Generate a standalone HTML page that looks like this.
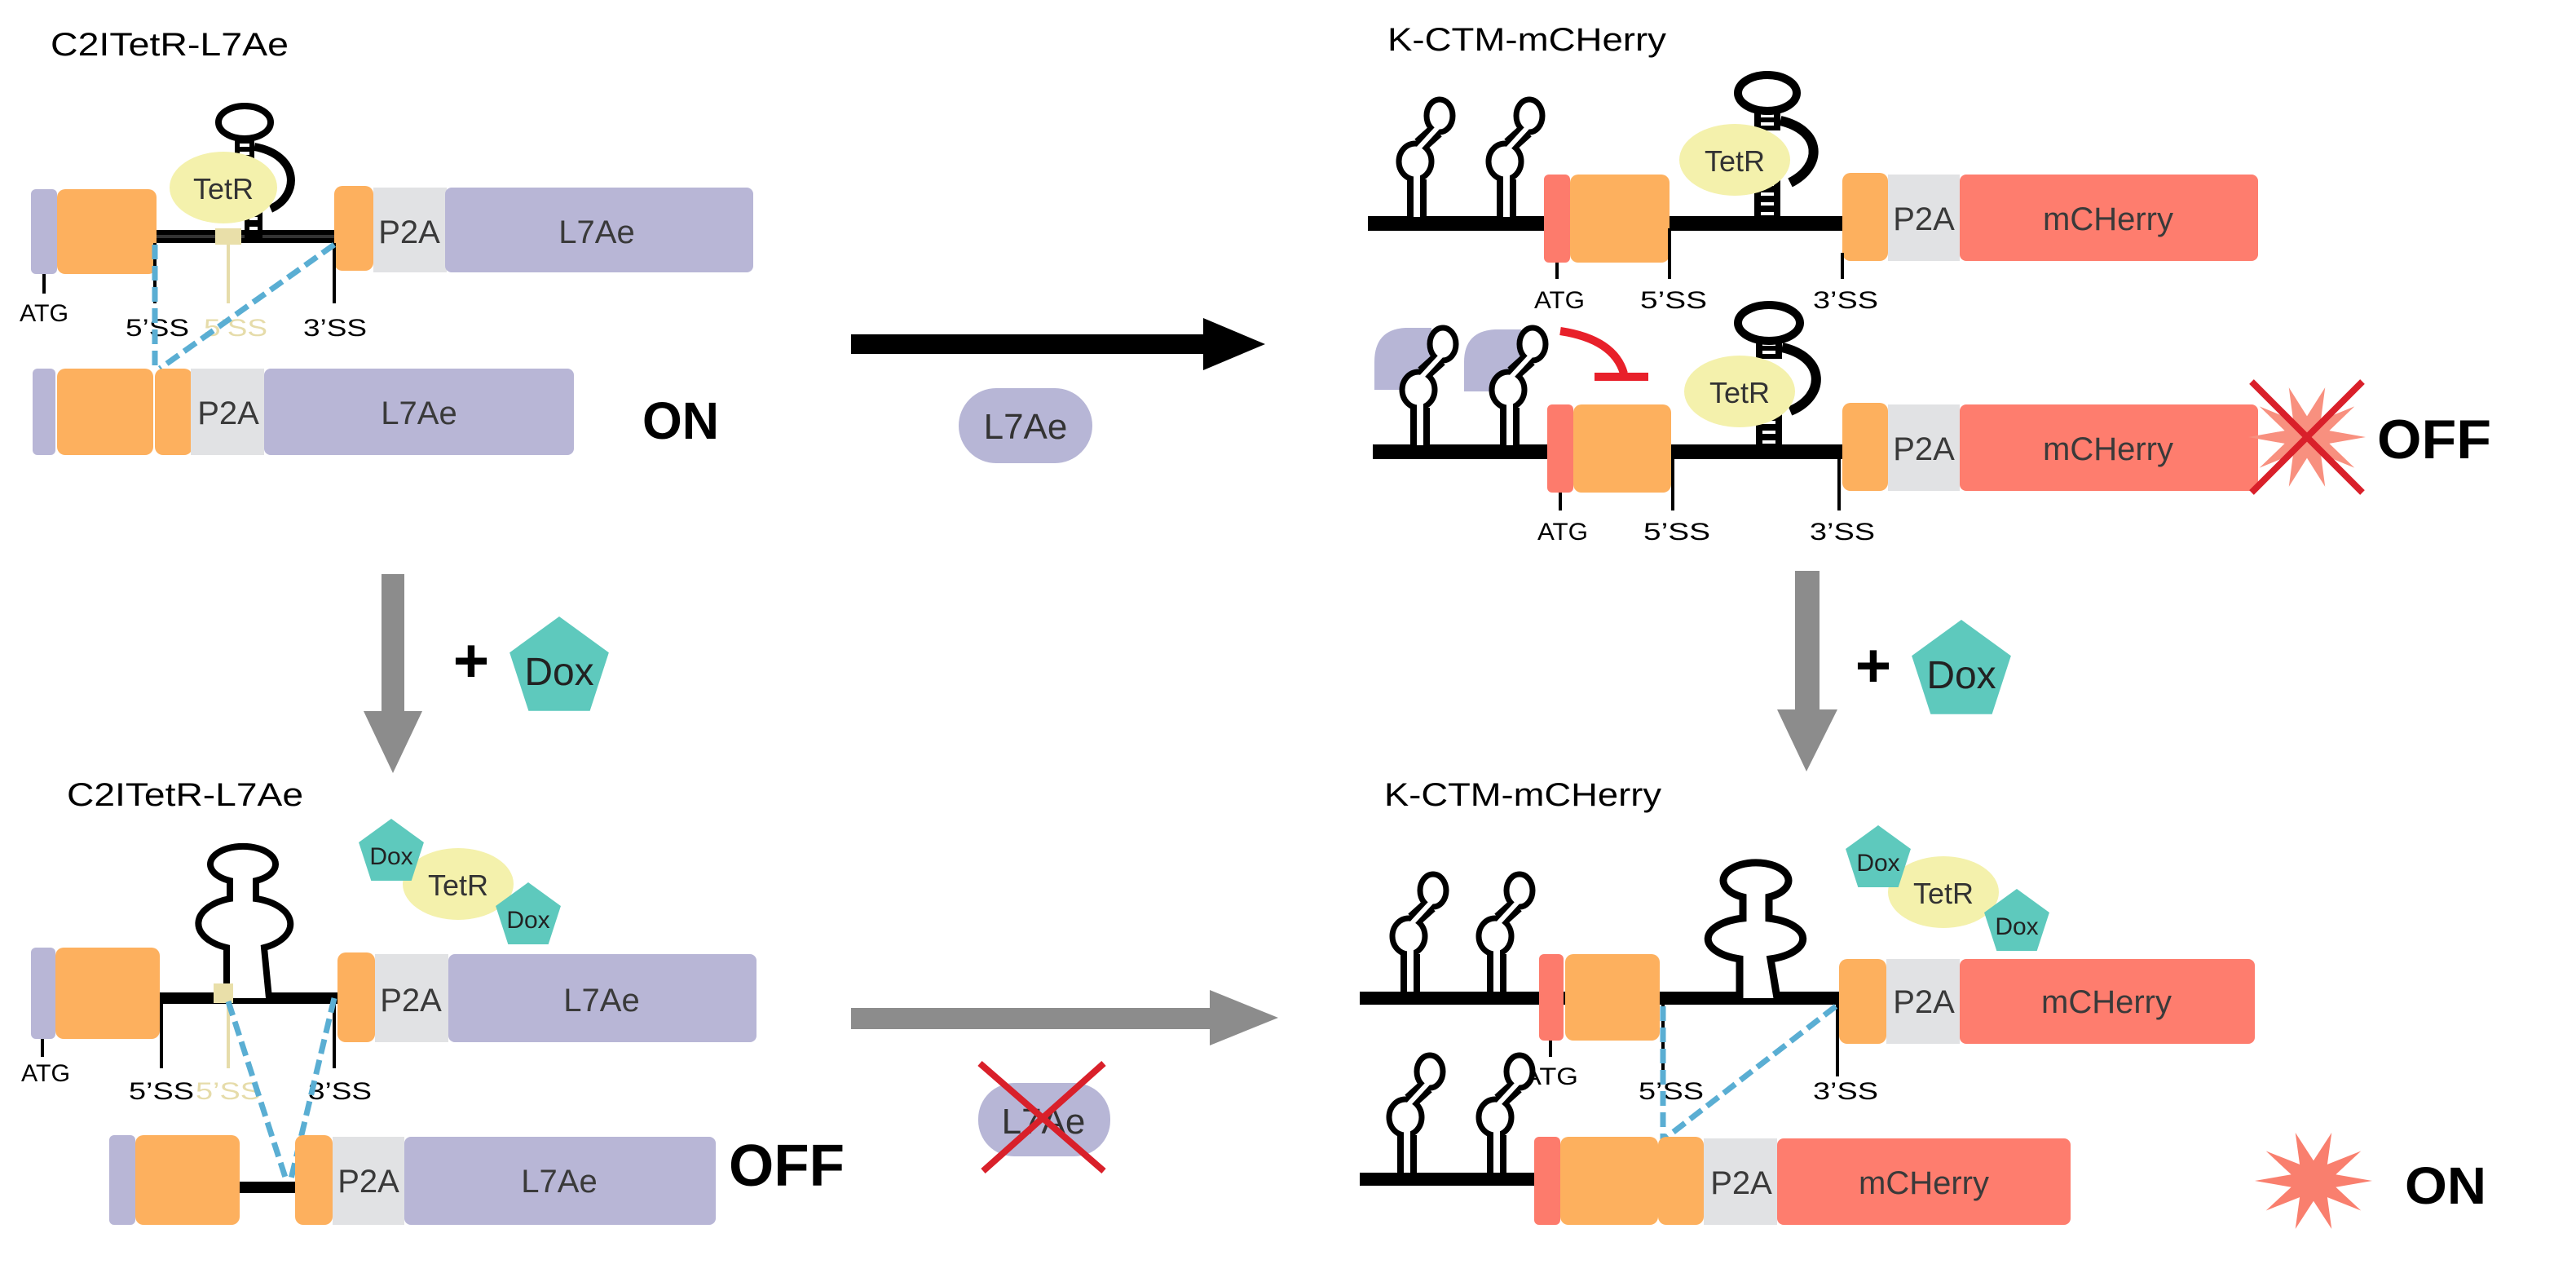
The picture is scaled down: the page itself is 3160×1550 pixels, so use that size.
<!DOCTYPE html>
<html><head><meta charset="utf-8"><style>
html,body{margin:0;padding:0;background:#fff;}
svg{display:block;}
text{font-family:"Liberation Sans",Arial,sans-serif;}
</style></head><body>
<svg width="3160" height="1550" viewBox="0 0 1580 775" xmlns="http://www.w3.org/2000/svg">
<defs>
<g id="hp">
 <path d="M0,0 V-27" stroke="#000" stroke-width="12" fill="none"/>
 <path d="M2,-48 L12,-57" stroke="#000" stroke-width="10" fill="none"/>
 <ellipse cx="-1" cy="-38" rx="10" ry="11" fill="#fff" stroke="#000" stroke-width="3.5"/>
 <ellipse cx="14" cy="-66" rx="8" ry="10" fill="#fff" stroke="#000" stroke-width="3.5"/>
 <path d="M0,-4 V-30" stroke="#fff" stroke-width="4" fill="none"/>
 <path d="M1,-46 L13,-59" stroke="#fff" stroke-width="3" fill="none"/>
</g>
<polygon id="pent" points="0,-1 0.951,-0.309 0.588,0.809 -0.588,0.809 -0.951,-0.309"/>
<polygon id="star" points="1,0 .38,.124 .809,.588 .235,.324 .309,.951 0,.4 -.309,.951 -.235,.324 -.809,.588 -.38,.124 -1,0 -.38,-.124 -.809,-.588 -.235,-.324 -.309,-.951 0,-.4 .309,-.951 .235,-.324 .809,-.588 .38,-.124"/>
<g id="lad">
 <rect x="0" y="0" width="16" height="1" fill="#000"/>
</g>
</defs>

<!-- ================= TOP LEFT ================= -->
<text x="31" y="34" font-size="20" textLength="146" lengthAdjust="spacingAndGlyphs">C2ITetR-L7Ae</text>
<line x1="96" y1="145" x2="208" y2="145" stroke="#000" stroke-width="8"/>
<line x1="96" y1="145" x2="208" y2="145" stroke="#333" stroke-width="2"/>
<path d="M156,90 C184,95 184,120 166,128" stroke="#000" stroke-width="5" fill="none"/>
<rect x="144" y="84" width="12" height="14" fill="#000"/>
<rect x="147" y="88" width="6" height="2" fill="#fff"/><rect x="147" y="93" width="6" height="2" fill="#fff"/>
<ellipse cx="150" cy="75" rx="16" ry="10" fill="#fff" stroke="#000" stroke-width="4"/>
<rect x="150" y="128" width="11" height="20" fill="#000"/>
<rect x="153" y="133" width="5" height="2" fill="#fff"/><rect x="153" y="139" width="5" height="2" fill="#fff"/>
<ellipse cx="137" cy="115" rx="33" ry="22" fill="#f4f1ac"/>
<text x="137" y="122" font-size="18" text-anchor="middle" fill="#333">TetR</text>
<rect x="132" y="140" width="16" height="10" fill="#e9dfa9"/>
<line x1="140" y1="150" x2="140" y2="186" stroke="#e6dcaa" stroke-width="2"/>
<rect x="19" y="116" width="16" height="52" rx="3" fill="#b8b6d6"/>
<rect x="35" y="116" width="61" height="52" rx="5" fill="#fdb05e"/>
<rect x="205" y="114" width="24" height="52" rx="5" fill="#fdb05e"/>
<rect x="229" y="115" width="45" height="52" fill="#e1e2e4"/>
<rect x="273" y="115" width="189" height="52" rx="4" fill="#b8b6d6"/>
<text x="251" y="149" font-size="20" text-anchor="middle" fill="#3a3a3a">P2A</text>
<text x="366" y="149" font-size="20" text-anchor="middle" fill="#3a3a3a">L7Ae</text>
<line x1="27" y1="168" x2="27" y2="180" stroke="#000" stroke-width="2"/>
<line x1="95" y1="149" x2="95" y2="186" stroke="#000" stroke-width="2"/>
<line x1="205" y1="149" x2="205" y2="186" stroke="#000" stroke-width="2"/>
<text x="12" y="197" font-size="15" textLength="30" lengthAdjust="spacingAndGlyphs">ATG</text>
<text x="77" y="206" font-size="15" textLength="39" lengthAdjust="spacingAndGlyphs">5’SS</text>
<text x="125" y="206" font-size="15" textLength="39" lengthAdjust="spacingAndGlyphs" fill="#e6dcaa">5’SS</text>
<text x="186" y="206" font-size="15" textLength="39" lengthAdjust="spacingAndGlyphs">3’SS</text>
<path d="M95,150 L95,226 M205,150 L98,226" stroke="#5aaed3" stroke-width="3.5" stroke-dasharray="9,4" fill="none"/>
<rect x="20" y="226" width="14" height="53" rx="3" fill="#b8b6d6"/>
<rect x="35" y="226" width="59" height="53" rx="5" fill="#fdb05e"/>
<rect x="95" y="226" width="23" height="53" rx="5" fill="#fdb05e"/>
<rect x="117" y="226" width="45" height="53" fill="#e1e2e4"/>
<rect x="162" y="226" width="190" height="53" rx="4" fill="#b8b6d6"/>
<text x="140" y="260" font-size="20" text-anchor="middle" fill="#3a3a3a">P2A</text>
<text x="257" y="260" font-size="20" text-anchor="middle" fill="#3a3a3a">L7Ae</text>
<text x="394" y="269" font-size="32" font-weight="bold" textLength="47" lengthAdjust="spacingAndGlyphs">ON</text>

<!-- middle black arrow -->
<rect x="522" y="205" width="218" height="12" fill="#000"/>
<polygon points="738,195 776,211 738,227" fill="#000"/>
<rect x="588" y="238" width="82" height="46" rx="23" fill="#b7b6d6"/>
<text x="629" y="269" font-size="22" text-anchor="middle" fill="#333">L7Ae</text>

<!-- ================= TOP RIGHT ================= -->
<text x="851" y="31" font-size="20" textLength="171" lengthAdjust="spacingAndGlyphs">K-CTM-mCHerry</text>
<line x1="839" y1="137" x2="1130" y2="137" stroke="#000" stroke-width="9"/>
<use href="#hp" x="869" y="137"/>
<use href="#hp" x="924" y="137"/>
<!-- big hairpin row1 -->
<path d="M1092,74 C1118,80 1118,102 1098,112" stroke="#000" stroke-width="6" fill="none"/>
<rect x="1076" y="66" width="16" height="14" fill="#000"/>
<rect x="1080" y="70" width="8" height="2" fill="#fff"/><rect x="1080" y="75" width="8" height="2" fill="#fff"/>
<ellipse cx="1084" cy="57" rx="18" ry="11" fill="#fff" stroke="#000" stroke-width="5"/>
<rect x="1076" y="106" width="16" height="35" fill="#000"/>
<rect x="1080" y="112" width="8" height="2" fill="#fff"/><rect x="1080" y="118" width="8" height="2" fill="#fff"/><rect x="1080" y="124" width="8" height="2" fill="#fff"/><rect x="1080" y="130" width="8" height="2" fill="#fff"/>
<ellipse cx="1064" cy="98" rx="34" ry="22" fill="#f4f1ac"/>
<text x="1064" y="105" font-size="18" text-anchor="middle" fill="#333">TetR</text>
<rect x="947" y="107" width="16" height="54" rx="3" fill="#fd7b6c"/>
<rect x="963" y="107" width="61" height="54" rx="5" fill="#fdb05e"/>
<rect x="1130" y="106" width="28" height="54" rx="5" fill="#fdb05e"/>
<rect x="1158" y="107" width="44" height="53" fill="#e1e2e4"/>
<rect x="1202" y="107" width="183" height="53" rx="4" fill="#fe7d6e"/>
<text x="1180" y="141" font-size="20" text-anchor="middle" fill="#3a3a3a">P2A</text>
<text x="1293" y="141" font-size="20" text-anchor="middle" fill="#3a3a3a">mCHerry</text>
<line x1="955" y1="161" x2="955" y2="171" stroke="#000" stroke-width="2"/>
<line x1="1024" y1="140" x2="1024" y2="171" stroke="#000" stroke-width="2"/>
<line x1="1130" y1="155" x2="1130" y2="171" stroke="#000" stroke-width="2"/>
<text x="941" y="189" font-size="15" textLength="31" lengthAdjust="spacingAndGlyphs">ATG</text>
<text x="1006" y="189" font-size="15" textLength="41" lengthAdjust="spacingAndGlyphs">5’SS</text>
<text x="1112" y="189" font-size="15" textLength="40" lengthAdjust="spacingAndGlyphs">3’SS</text>

<!-- row2 -->
<path d="M878,201 L862,201 Q843,202 843,222 L843,239 L878,239 Z" fill="#b7b6d6"/>
<path d="M933,202 L917,202 Q898,203 898,222 L898,240 L933,240 Z" fill="#b7b6d6"/>
<line x1="842" y1="277" x2="1130" y2="277" stroke="#000" stroke-width="9"/>
<use href="#hp" x="871" y="277"/>
<use href="#hp" x="926" y="277"/>
<path d="M957,203 Q990,208 996,229" stroke="#e8202a" stroke-width="5" fill="none"/>
<line x1="978" y1="231" x2="1011" y2="231" stroke="#e8202a" stroke-width="5"/>
<path d="M1093,213 C1120,219 1120,243 1098,252" stroke="#000" stroke-width="6" fill="none"/>
<rect x="1077" y="206" width="16" height="14" fill="#000"/>
<rect x="1081" y="210" width="8" height="2" fill="#fff"/><rect x="1081" y="215" width="8" height="2" fill="#fff"/>
<ellipse cx="1085" cy="198" rx="19" ry="11" fill="#fff" stroke="#000" stroke-width="5"/>
<rect x="1077" y="246" width="16" height="35" fill="#000"/>
<rect x="1081" y="252" width="8" height="2" fill="#fff"/><rect x="1081" y="258" width="8" height="2" fill="#fff"/><rect x="1081" y="264" width="8" height="2" fill="#fff"/><rect x="1081" y="270" width="8" height="2" fill="#fff"/>
<ellipse cx="1067" cy="240" rx="34" ry="22" fill="#f4f1ac"/>
<text x="1067" y="247" font-size="18" text-anchor="middle" fill="#333">TetR</text>
<rect x="949" y="248" width="16" height="54" rx="3" fill="#fd7b6c"/>
<rect x="965" y="248" width="60" height="54" rx="5" fill="#fdb05e"/>
<rect x="1130" y="247" width="28" height="54" rx="5" fill="#fdb05e"/>
<rect x="1158" y="248" width="44" height="53" fill="#e1e2e4"/>
<rect x="1202" y="248" width="183" height="53" rx="4" fill="#fe7d6e"/>
<text x="1180" y="282" font-size="20" text-anchor="middle" fill="#3a3a3a">P2A</text>
<text x="1293" y="282" font-size="20" text-anchor="middle" fill="#3a3a3a">mCHerry</text>
<line x1="957" y1="302" x2="957" y2="313" stroke="#000" stroke-width="2"/>
<line x1="1026" y1="277" x2="1026" y2="313" stroke="#000" stroke-width="2"/>
<line x1="1128" y1="277" x2="1128" y2="313" stroke="#000" stroke-width="2"/>
<text x="943" y="331" font-size="15" textLength="31" lengthAdjust="spacingAndGlyphs">ATG</text>
<text x="1008" y="331" font-size="15" textLength="41" lengthAdjust="spacingAndGlyphs">5’SS</text>
<text x="1110" y="331" font-size="15" textLength="40" lengthAdjust="spacingAndGlyphs">3’SS</text>
<use href="#star" transform="translate(1415,268) scale(36,32)" fill="#f8907f"/>
<path d="M1381,234 L1449,302 M1449,234 L1381,302" stroke="#d9202a" stroke-width="4"/>
<text x="1458" y="281" font-size="34" font-weight="bold" textLength="70" lengthAdjust="spacingAndGlyphs">OFF</text>

<!-- down arrows -->
<rect x="234" y="352" width="14" height="86" fill="#8c8c8c"/>
<polygon points="223,436 259,436 241,474" fill="#8c8c8c"/>
<text x="289" y="418" font-size="38" font-weight="bold" text-anchor="middle">+</text>
<use href="#pent" transform="translate(343,410) scale(32)" fill="#5ec9bd"/>
<text x="343" y="420" font-size="24" text-anchor="middle" fill="#222">Dox</text>

<rect x="1101" y="350" width="15" height="87" fill="#8c8c8c"/>
<polygon points="1090,435 1127,435 1108,473" fill="#8c8c8c"/>
<text x="1149" y="421" font-size="38" font-weight="bold" text-anchor="middle">+</text>
<use href="#pent" transform="translate(1203,412) scale(32)" fill="#5ec9bd"/>
<text x="1203" y="422" font-size="24" text-anchor="middle" fill="#222">Dox</text>

<!-- ================= BOTTOM LEFT ================= -->
<text x="41" y="494" font-size="20" textLength="145" lengthAdjust="spacingAndGlyphs">C2ITetR-L7Ae</text>
<line x1="98" y1="612" x2="207" y2="612" stroke="#000" stroke-width="7"/>
<path d="M139,612 L139,581 A28,16 0 0,1 141,551 L141,540 A20,11 0 1,1 157,540 L157,551 A28,16 0 0,1 162,581 L165,612 Z" fill="#fff" stroke="none"/>
<path d="M139,612 L139,581 A28,16 0 0,1 141,551 L141,540 A20,11 0 1,1 157,540 L157,551 A28,16 0 0,1 162,581 L165,612" fill="none" stroke="#000" stroke-width="4"/>
<rect x="131" y="603" width="12" height="12" fill="#e9dfa9"/>
<line x1="140" y1="615" x2="140" y2="655" stroke="#e6dcaa" stroke-width="2"/>
<rect x="19" y="581" width="15" height="56" rx="3" fill="#b8b6d6"/>
<rect x="34" y="581" width="64" height="56" rx="5" fill="#fdb05e"/>
<rect x="207" y="584" width="23" height="55" rx="5" fill="#fdb05e"/>
<rect x="230" y="585" width="45" height="54" fill="#e1e2e4"/>
<rect x="275" y="585" width="189" height="54" rx="4" fill="#b8b6d6"/>
<text x="252" y="620" font-size="20" text-anchor="middle" fill="#3a3a3a">P2A</text>
<text x="369" y="620" font-size="20" text-anchor="middle" fill="#3a3a3a">L7Ae</text>
<ellipse cx="281" cy="542" rx="34" ry="22" fill="#f4f1ac"/>
<text x="281" y="549" font-size="18" text-anchor="middle" fill="#333">TetR</text>
<use href="#pent" transform="translate(240,523) scale(21)" fill="#5ec9bd"/>
<text x="240" y="530" font-size="15" text-anchor="middle" fill="#222">Dox</text>
<use href="#pent" transform="translate(324,562) scale(21)" fill="#5ec9bd"/>
<text x="324" y="569" font-size="15" text-anchor="middle" fill="#222">Dox</text>
<line x1="26" y1="637" x2="26" y2="648" stroke="#000" stroke-width="2"/>
<line x1="99" y1="612" x2="99" y2="655" stroke="#000" stroke-width="2"/>
<line x1="205" y1="612" x2="205" y2="655" stroke="#000" stroke-width="2"/>
<text x="13" y="663" font-size="15" textLength="30" lengthAdjust="spacingAndGlyphs">ATG</text>
<text x="79" y="674" font-size="15" textLength="40" lengthAdjust="spacingAndGlyphs">5’SS</text>
<text x="120" y="674" font-size="15" textLength="40" lengthAdjust="spacingAndGlyphs" fill="#e6dcaa">5’SS</text>
<text x="189" y="674" font-size="15" textLength="39" lengthAdjust="spacingAndGlyphs">3’SS</text>
<path d="M140,614 L176,725 M205,612 L178,725" stroke="#5aaed3" stroke-width="3.5" stroke-dasharray="9,4" fill="none"/>
<line x1="147" y1="728" x2="181" y2="728" stroke="#000" stroke-width="7"/>
<rect x="67" y="696" width="16" height="55" rx="3" fill="#b8b6d6"/>
<rect x="83" y="696" width="64" height="55" rx="5" fill="#fdb05e"/>
<rect x="181" y="696" width="23" height="55" rx="5" fill="#fdb05e"/>
<rect x="204" y="697" width="44" height="54" fill="#e1e2e4"/>
<rect x="248" y="697" width="191" height="54" rx="4" fill="#b8b6d6"/>
<text x="226" y="731" font-size="20" text-anchor="middle" fill="#3a3a3a">P2A</text>
<text x="343" y="731" font-size="20" text-anchor="middle" fill="#3a3a3a">L7Ae</text>
<text x="447" y="727" font-size="36" font-weight="bold" textLength="71" lengthAdjust="spacingAndGlyphs">OFF</text>

<!-- bottom gray arrow -->
<rect x="522" y="618" width="222" height="13" fill="#8c8c8c"/>
<polygon points="742,607 784,624 742,641" fill="#8c8c8c"/>
<rect x="600" y="664" width="81" height="45" rx="22" fill="#b7b6d6"/>
<text x="640" y="695" font-size="22" text-anchor="middle" fill="#333">L7Ae</text>
<path d="M601,652 L677,718 M677,652 L603,718" stroke="#d9202a" stroke-width="4"/>

<!-- ================= BOTTOM RIGHT ================= -->
<text x="849" y="494" font-size="20" textLength="170" lengthAdjust="spacingAndGlyphs">K-CTM-mCHerry</text>
<line x1="834" y1="612" x2="1128" y2="612" stroke="#000" stroke-width="8"/>
<use href="#hp" x="865" y="612"/>
<use href="#hp" x="918" y="612"/>
<path d="M1067,612 L1067,588 A28,13 0 0,1 1069,563 L1069,550 A20,11 0 1,1 1085,550 L1085,563 A28,13 0 0,1 1086,588 L1090,612 Z" fill="#fff"/>
<path d="M1067,612 L1067,588 A28,13 0 0,1 1069,563 L1069,550 A20,11 0 1,1 1085,550 L1085,563 A28,13 0 0,1 1086,588 L1090,612" fill="none" stroke="#000" stroke-width="4.5"/>
<rect x="944" y="585" width="15" height="53" rx="3" fill="#fd7b6c"/>
<rect x="960" y="585" width="58" height="53" rx="5" fill="#fdb05e"/>
<rect x="1128" y="588" width="29" height="52" rx="5" fill="#fdb05e"/>
<rect x="1157" y="588" width="45" height="52" fill="#e1e2e4"/>
<rect x="1202" y="588" width="181" height="52" rx="4" fill="#fe7d6e"/>
<text x="1180" y="621" font-size="20" text-anchor="middle" fill="#3a3a3a">P2A</text>
<text x="1292" y="621" font-size="20" text-anchor="middle" fill="#3a3a3a">mCHerry</text>
<ellipse cx="1192" cy="547" rx="34" ry="22" fill="#f4f1ac"/>
<text x="1192" y="554" font-size="18" text-anchor="middle" fill="#333">TetR</text>
<use href="#pent" transform="translate(1152,527) scale(21)" fill="#5ec9bd"/>
<text x="1152" y="534" font-size="15" text-anchor="middle" fill="#222">Dox</text>
<use href="#pent" transform="translate(1237,566) scale(21)" fill="#5ec9bd"/>
<text x="1237" y="573" font-size="15" text-anchor="middle" fill="#222">Dox</text>
<line x1="951" y1="638" x2="951" y2="648" stroke="#000" stroke-width="2"/>
<line x1="1020" y1="612" x2="1020" y2="660" stroke="#000" stroke-width="2"/>
<line x1="1127" y1="612" x2="1127" y2="660" stroke="#000" stroke-width="2"/>
<text x="934" y="665" font-size="15" textLength="34" lengthAdjust="spacingAndGlyphs">ATG</text>
<text x="1005" y="674" font-size="15" textLength="40" lengthAdjust="spacingAndGlyphs">5’SS</text>
<text x="1112" y="674" font-size="15" textLength="40" lengthAdjust="spacingAndGlyphs">3’SS</text>
<path d="M1020,617 L1020,699 M1126,617 L1020,699" stroke="#5aaed3" stroke-width="3.5" stroke-dasharray="9,4" fill="none"/>
<line x1="834" y1="723" x2="941" y2="723" stroke="#000" stroke-width="8"/>
<use href="#hp" x="863" y="723"/>
<use href="#hp" x="918" y="723"/>
<rect x="941" y="697" width="16" height="54" rx="3" fill="#fd7b6c"/>
<rect x="957" y="697" width="60" height="54" rx="5" fill="#fdb05e"/>
<rect x="1017" y="697" width="28" height="54" rx="5" fill="#fdb05e"/>
<rect x="1045" y="698" width="45" height="53" fill="#e1e2e4"/>
<rect x="1090" y="698" width="180" height="53" rx="4" fill="#fe7d6e"/>
<text x="1068" y="732" font-size="20" text-anchor="middle" fill="#3a3a3a">P2A</text>
<text x="1180" y="732" font-size="20" text-anchor="middle" fill="#3a3a3a">mCHerry</text>
<use href="#star" transform="translate(1419,724) scale(36,31)" fill="#f97f6e"/>
<text x="1475" y="738" font-size="32" font-weight="bold" textLength="50" lengthAdjust="spacingAndGlyphs">ON</text>
</svg>
</body></html>
